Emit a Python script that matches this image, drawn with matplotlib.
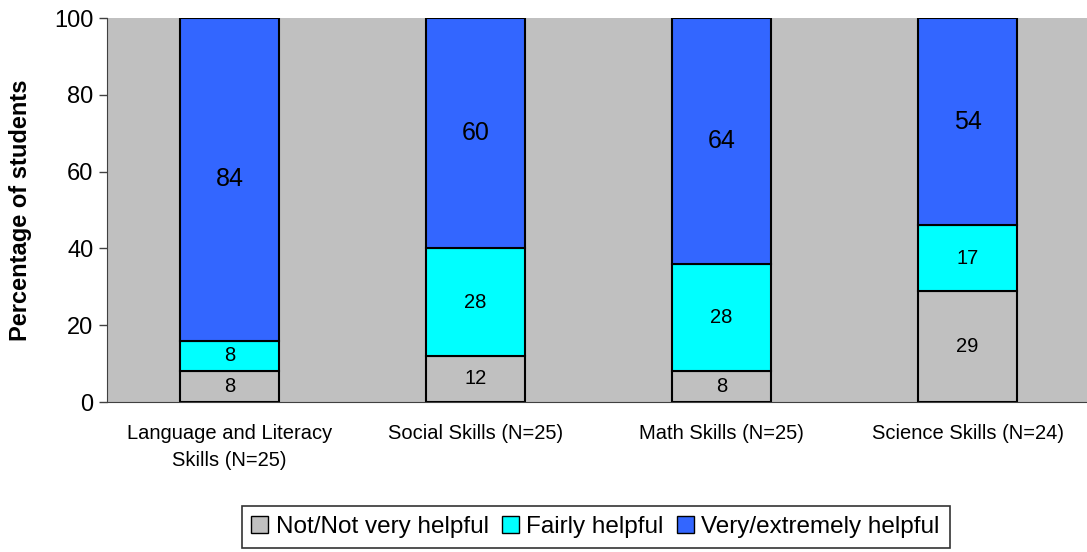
import numpy as np
import matplotlib.pyplot as plt

plt.rcParams['font.family'] = ['Liberation Sans', 'DejaVu Sans']

# data
categories = ['Language and Literacy\nSkills (N=25)', 'Social Skills (N=25)',
              'Math Skills (N=25)', 'Science Skills (N=24)']
not_helpful = [8, 12, 8, 29]
fairly = [8, 28, 28, 17]
very = [84, 60, 64, 54]
series_names = ['Not/Not very helpful', 'Fairly helpful', 'Very/extremely helpful']
colors = ['#C0C0C0', '#00FFFF', '#3366FF']

fig = plt.figure(figsize=(10.87, 5.52), dpi=100)
ax = fig.add_axes([0.098, 0.2717, 0.9053, 0.6953])
ax.set_facecolor('#C0C0C0')

x = np.arange(len(categories))
w = 0.402
bottom = np.zeros(len(categories))
size_map = [14.5, 14.5, 18]
for vals, name, col, fs in zip([not_helpful, fairly, very], series_names, colors, size_map):
    bars = ax.bar(x, vals, w, bottom=bottom, color=col, edgecolor='black',
                  linewidth=1.5, label=name)
    for b, v, bt in zip(bars, vals, bottom):
        ax.text(b.get_x() + b.get_width() / 2, bt + v / 2, str(v),
                ha='center', va='center', fontsize=fs)
    bottom += np.array(vals)

ax.set_xlim(-0.5, 3.5)
ax.set_ylim(0, 100)
ax.set_yticks([0, 20, 40, 60, 80, 100])
ax.tick_params(axis='y', labelsize=17, length=6, width=1, color='#404040')
ax.set_xticks(x)
ax.set_xticklabels(categories, fontsize=14.5, linespacing=1.5)
ax.tick_params(axis='x', length=0, pad=16)
ax.set_ylabel('Percentage of students', fontsize=17, fontweight='bold', labelpad=16)

for s in ['top', 'right']:
    ax.spines[s].set_visible(False)
ax.spines['left'].set_color('#404040')
ax.spines['bottom'].set_color('#404040')

leg = ax.legend(loc='upper center', bbox_to_anchor=(0.497, -0.24), ncol=3,
                fontsize=17.5, frameon=True, fancybox=False, edgecolor='black',
                handlelength=0.7, handleheight=0.7, handletextpad=0.3,
                columnspacing=0.55, borderpad=0.4)
leg.get_frame().set_linewidth(1.2)
for h in leg.legend_handles:
    h.set_linewidth(1)

fig.savefig('out.png', dpi=100)
